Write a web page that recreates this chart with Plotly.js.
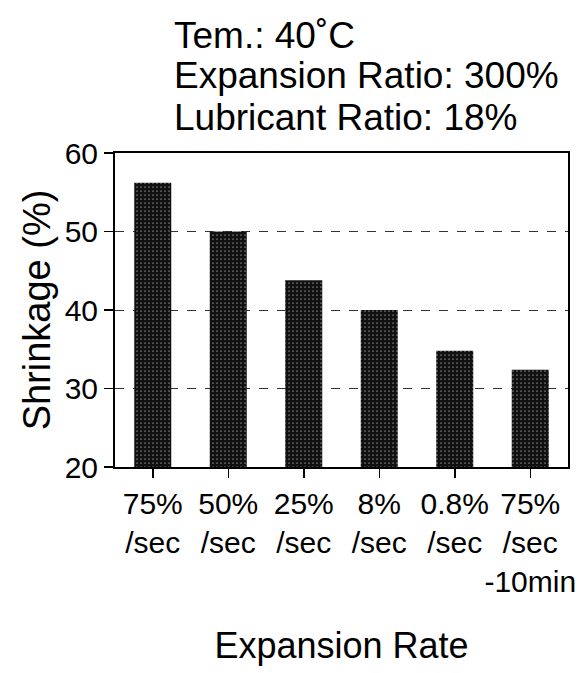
<!DOCTYPE html>
<html><head><meta charset="utf-8">
<script src="https://cdn.plot.ly/plotly-3.0.1.min.js"></script>
<style>html,body{margin:0;padding:0;background:#fff}#c{width:580px;height:673px}</style>
</head><body><div id="c"></div>
<script>
const categories = ["75%<br>/sec", "50%<br>/sec", "25%<br>/sec", "8%<br>/sec", "0.8%<br>/sec", "75%<br>/sec<br>-10min"];
const shrinkage = [56.2, 50.0, 43.8, 40.0, 34.8, 32.4];
const titleLines = ["Tem.: 40˚C", "Expansion Ratio: 300%", "Lubricant Ratio: 18%"];
const yTicks = [20, 30, 40, 50, 60];

const FONT = '"Liberation Sans Narrow", "Arial Narrow", "Liberation Sans", Arial, sans-serif';
const L = 115, R = 12, T = 153, B = 206, H = 673;
const ph = H - T - B;
const titleY = [35, 76, 117];

const annotations = titleLines.map((t, i) => ({
  text: t, xref: 'paper', yref: 'paper', x: (172 - L) / (580 - L - R), xanchor: 'left',
  y: (H - B - titleY[i]) / ph, yanchor: 'middle', showarrow: false,
  font: {family: FONT, size: 37, color: '#000'}
}));

Plotly.newPlot('c', [{
  type: 'bar', x: categories, y: shrinkage,
  marker: {color: '#111', line: {width: 0},
    pattern: {shape: '.', fgcolor: '#ffffff', bgcolor: '#111', size: 4, solidity: 0.07}}
}], {
  width: 580, height: 673, margin: {l: L, r: R, t: T, b: B},
  paper_bgcolor: '#fff', plot_bgcolor: '#fff', bargap: 0.51, showlegend: false,
  font: {family: FONT, color: '#000'},
  xaxis: {showline: true, mirror: true, linecolor: '#000', linewidth: 2,
    ticks: 'outside', ticklen: 9, tickwidth: 1.5, tickcolor: '#000', tickangle: 0,
    tickfont: {family: FONT, size: 30}, showgrid: false,
    title: {text: 'Expansion Rate', font: {family: FONT, size: 36}, standoff: 36}},
  yaxis: {range: [20, 60], tickvals: yTicks, showline: true, mirror: true, linecolor: '#000', linewidth: 2,
    ticks: 'outside', ticklen: 9, tickwidth: 1.5, tickcolor: '#000',
    tickfont: {family: FONT, size: 30}, showgrid: true, gridcolor: '#333', griddash: 'dash', gridwidth: 1,
    zeroline: false,
    title: {text: 'Shrinkage (%)', font: {family: FONT, size: 38}, standoff: 2}},
  annotations: annotations
}, {displayModeBar: false, staticPlot: true});
</script></body></html>
